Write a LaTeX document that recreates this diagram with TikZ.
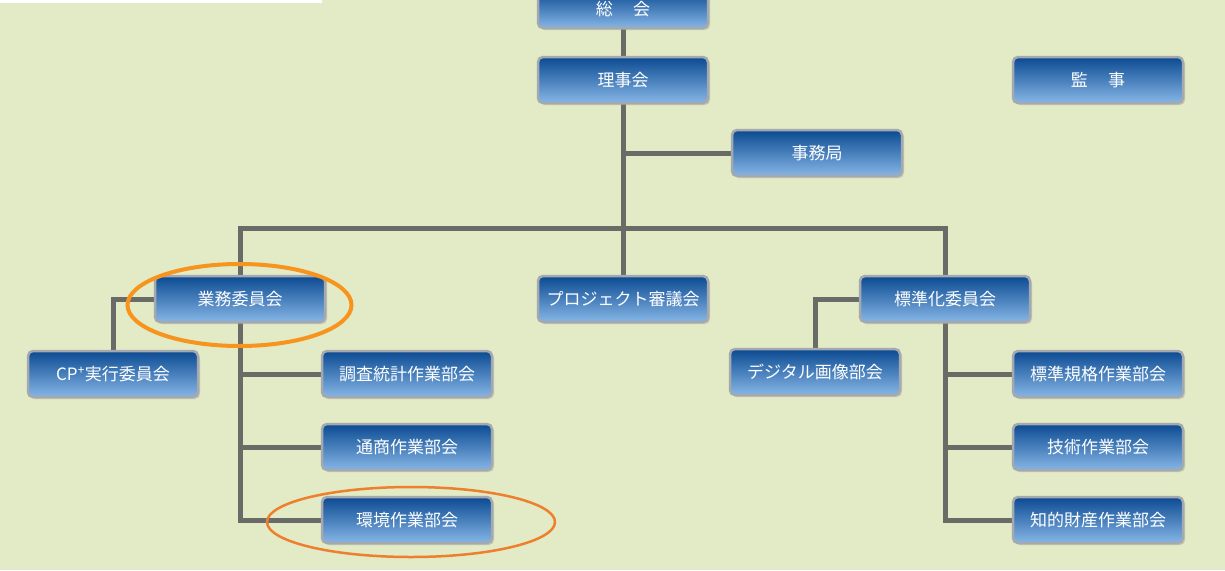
\documentclass[tikz,border=0pt]{standalone}
\usepackage{fontspec}
\setmainfont{Noto Sans CJK JP}
\usetikzlibrary{shadows,backgrounds}
\definecolor{bg}{HTML}{E2EAC6}
\definecolor{boxtop}{HTML}{0B4A92}
\definecolor{boxbot}{HTML}{86B6E6}
\definecolor{boxedge}{HTML}{A3A9AE}
\definecolor{connc}{HTML}{6A6A66}
\definecolor{ora}{HTML}{F7941D}
\definecolor{orb}{HTML}{EE7F2D}
\tikzset{
  orgbox/.style={rectangle, rounded corners=5pt, minimum width=170pt, minimum height=46pt,
    top color=boxtop, bottom color=boxbot, draw=boxedge, line width=2.5pt,
    drop shadow={shadow xshift=2pt, shadow yshift=-2pt, fill=black!35, opacity=0.5},
    text=white, font=\fontsize{17}{19}\selectfont, inner sep=0pt},
  connline/.style={draw=connc, line width=5pt},
}
\begin{document}
\begin{tikzpicture}[x=1pt,y=-1pt]
\useasboundingbox (0,0) rectangle (1225,570);
% nodes
\node[orgbox, minimum height=38pt] (sokai) at (623,9) {総\hspace{1.2em}会};
\node[orgbox] (riji) at (623,80) {理事会};
\node[orgbox] (kanji) at (1098,80) {監\hspace{1.2em}事};
\node[orgbox] (jimu) at (817,153) {事務局};
\node[orgbox] (gyomu) at (240,299) {業務委員会};
\node[orgbox] (proj) at (623,299) {プロジェクト審議会};
\node[orgbox] (hyoj) at (945,299) {標準化委員会};
\node[orgbox] (cp) at (113,374) {CP\textsuperscript{+}実行委員会};
\node[orgbox] (chosa) at (407,374) {調査統計作業部会};
\node[orgbox] (digi) at (815,372) {デジタル画像部会};
\node[orgbox] (kikaku) at (1098,374) {標準規格作業部会};
\node[orgbox] (tsusho) at (407,447) {通商作業部会};
\node[orgbox] (gijutsu) at (1098,447) {技術作業部会};
\node[orgbox] (kankyo) at (407,520) {環境作業部会};
\node[orgbox] (chiteki) at (1098,520) {知的財産作業部会};
% ellipses
\draw[ora, line width=4pt] (239.5,305) ellipse [x radius=112, y radius=41];
\draw[orb, line width=2.5pt] (411,522) ellipse [x radius=144, y radius=35];
\begin{pgfonlayer}{background}
\fill[bg] (0,0) rectangle (1225,570);
\fill[white] (0,0) rectangle (322,3);
\coordinate (hub) at (623,228);
\coordinate (jkL) at (240,228);
\coordinate (jkR) at (945,228);
\draw[connline] (sokai) -- (riji);
\draw[connline] (riji.south) -- (hub);
\draw[connline] (riji.south |- jimu) -- (jimu.west);
\draw[connline] (gyomu.north) -- (jkL) -- (jkR) -- (hyoj.north);
\draw[connline] (hub) -- (proj.north);
\draw[connline] (gyomu.west) -| (cp.north);
\draw[connline] (gyomu.south) |- (kankyo.west);
\draw[connline] (gyomu.south |- chosa) -- (chosa.west);
\draw[connline] (gyomu.south |- tsusho) -- (tsusho.west);
\draw[connline] (hyoj.west) -| (digi.north);
\draw[connline] (hyoj.south) |- (chiteki.west);
\draw[connline] (hyoj.south |- kikaku) -- (kikaku.west);
\draw[connline] (hyoj.south |- gijutsu) -- (gijutsu.west);
\end{pgfonlayer}
\end{tikzpicture}
\end{document}
